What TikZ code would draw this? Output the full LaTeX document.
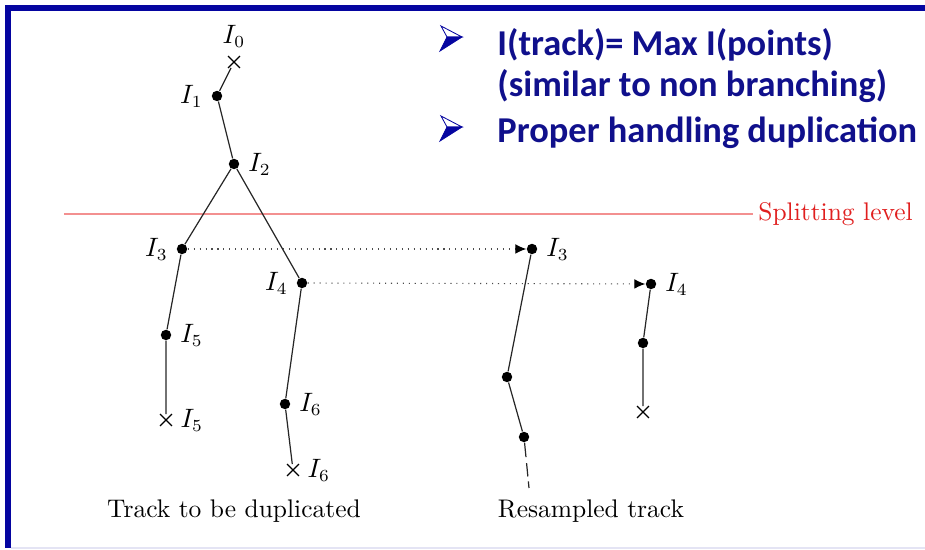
\documentclass[tikz,border=0pt]{standalone}
\usepackage{fontspec}
\usepackage{tikz}
\usetikzlibrary{arrows.meta,shapes.misc}
\newfontfamily\calibri{Carlito}
\definecolor{slideblue}{HTML}{0505A0}
\definecolor{bultext}{HTML}{10108C}
\definecolor{splitred}{HTML}{E01E1E}
\definecolor{splitline}{HTML}{F39090}
\definecolor{framegris}{HTML}{E4E4F4}
\tikzset{
  pt/.style={circle, fill=black, inner sep=0pt, minimum size=4.3pt},
  endx/.style={cross out, draw=black, inner sep=0pt, minimum size=4.4pt, line width=0.5pt},
  seg/.style={line width=0.5pt, draw=black!85},
  copyarr/.style={dotted, draw=black!70, line width=0.45pt, -{Latex[length=4.5pt,width=4pt,black]}},
  bul/.style={anchor=west, inner sep=0pt, text=bultext, font=\calibri\bfseries\fontsize{15}{18}\selectfont},
  bularrow/.pic={
    \filldraw[draw=slideblue, fill=white, line width=0.35pt] (-10,-12) -- (11,-1) -- (-4,-1) -- cycle;
    \filldraw[draw=slideblue, fill=slideblue, line width=0.35pt] (-4,-1) -- (11,-1) -- (-11,13) -- cycle;
  },
}

\begin{document}
\begin{tikzpicture}[x=0.412pt, y=-0.412pt, font=\fontsize{10.5}{12.6}\selectfont]
  \useasboundingbox (0,0) rectangle (925,550);
  \fill[slideblue] (5,5) rectangle (925,11);
  \fill[slideblue] (5,5) rectangle (11,548);
  \draw[framegris, line width=0.8pt] (11,548) -- (925,548);

  % bullets
  \pic at (451,38) {bularrow};
  \pic at (451,128) {bularrow};
  \node[bul] (b1) at (497,45) {I(track)= Max I(points)};
  \node[bul] (b2) at (497,86) {(similar to non branching)};
  \node[bul] (b3) at (497,133) {Proper handling duplication};

  % splitting level
  \coordinate (s0) at (64,214);
  \node[anchor=west, text=splitred, inner sep=2pt] (split) at (753,214) {Splitting level};
  \draw[splitline, line width=0.6pt] (s0) -- (split);

  % track to be duplicated
  \node[endx, label=above:$I_0$] (I0) at (234,62) {};
  \node[pt, label=left:$I_1$] (I1) at (217,96) {};
  \node[pt, label=right:$I_2$] (I2) at (234,164) {};
  \node[pt, label=left:$I_3$] (I3) at (182,249) {};
  \node[pt, label=left:$I_4$] (I4) at (302,283) {};
  \node[pt, label=right:$I_5$] (I5) at (166,335) {};
  \node[endx, label=right:$I_5$] (I5x) at (166,420) {};
  \node[pt, label=right:$I_6$] (I6) at (285,404) {};
  \node[endx, label=right:$I_6$] (I6x) at (293,470) {};
  \draw[seg] (I0) -- (I1) -- (I2) -- (I3) -- (I5) -- (I5x);
  \draw[seg] (I2) -- (I4) -- (I6) -- (I6x);

  % resampled track
  \node[pt, label=right:$I_3$] (R3) at (532,249) {};
  \node[pt] (R3a) at (507,377) {};
  \node[pt] (R3b) at (524,437) {};
  \coordinate (R3end) at (529,488);
  \node[pt, label=right:$I_4$] (R4) at (651,284) {};
  \node[pt] (R4a) at (643,343) {};
  \node[endx] (R4x) at (643,412) {};
  \draw[seg] (R3) -- (R3a) -- (R3b);
  \draw[seg, dash pattern=on 6pt off 2.5pt on 5.5pt off 2pt on 3pt off 2pt] (R3b) -- (R3end);
  \draw[seg] (R4) -- (R4a) -- (R4x);

  \draw[copyarr] (I3) -- (R3);
  \draw[copyarr] (I4) -- (R4);

  \node (dup) at (234,511) {Track to be duplicated};
  \node (res) at (591,511) {Resampled track};
\end{tikzpicture}
\end{document}
